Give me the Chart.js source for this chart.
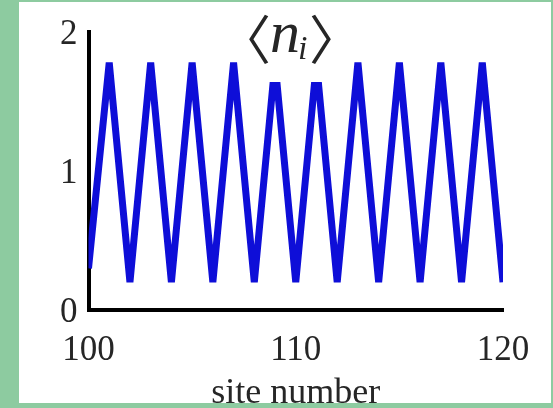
<!DOCTYPE html>
<html>
<head>
<meta charset="utf-8">
<script src="https://cdn.jsdelivr.net/npm/chart.js@4.4.0/dist/chart.umd.min.js"></script>
<style>
  html, body { margin: 0; padding: 0; background: #8dcba0; }
  #wrap { position: absolute; left: 0; top: 0; width: 553px; height: 408px; }
</style>
</head>
<body>
<div id="wrap"><canvas id="densityChart"></canvas></div>
<script>
// site index along the chain
const sites = [100, 101, 102, 103, 104, 105, 106, 107, 108, 109, 110,
               111, 112, 113, 114, 115, 116, 117, 118, 119, 120];
// mean occupation <n_i> per site
const occupation = [0.30, 1.78, 0.20, 1.78, 0.20, 1.78, 0.20, 1.78, 0.20, 1.78, 0.20,
                    1.78, 0.20, 1.78, 0.20, 1.78, 0.20, 1.78, 0.20, 1.78, 0.20];
const xTickValues = [100, 110, 120];
const yTickValues = [0, 1, 2];

const GREEN = '#8dcba0';
const TEXT = '#262626';
const BRACKET_FAMILY = '"Noto Sans CJK SC"';
const N_FONT = 'italic 60px "Liberation Serif"';
const SUB_FONT = 'italic 34px "Liberation Serif"';

// white panel behind the plot, green frame on top of everything
const framePlugin = {
    id: 'frame',
    beforeDraw(chart) {
        const c = chart.ctx;
        c.save();
        c.fillStyle = GREEN;
        c.fillRect(0, 0, chart.width, chart.height);
        c.fillStyle = '#ffffff';
        c.fillRect(19, 2, 532, 401);
        c.restore();
    },
    afterDraw(chart) {
        const c = chart.ctx;
        c.save();
        c.fillStyle = GREEN;
        c.fillRect(0, 0, 19, chart.height);
        c.fillRect(551, 0, 2, chart.height);
        c.fillRect(0, 0, chart.width, 2);
        c.fillRect(0, 403, chart.width, 5);
        c.restore();
    }
};

// draws a glyph so that its ink starts at x; returns where the ink ends
function inkText(c, str, x, y) {
    const m = c.measureText(str);
    c.fillText(str, x + m.actualBoundingBoxLeft, y);
    return x + m.actualBoundingBoxLeft + m.actualBoundingBoxRight;
}

// <n_i> label on a white box that sits over the curve
const labelPlugin = {
    id: 'niLabel',
    afterDatasetsDraw(chart) {
        const c = chart.ctx;
        c.save();
        c.fillStyle = '#ffffff';
        c.fillRect(242, 2, 94, 80);
        c.fillStyle = TEXT;
        c.textBaseline = 'alphabetic';
        c.textAlign = 'left';

        // size the angle brackets to span y = 15..65
        const top = 15, height = 50;
        c.font = '100px ' + BRACKET_FAMILY;
        const ref = c.measureText('\u3008');
        const k = height / (ref.actualBoundingBoxAscent + ref.actualBoundingBoxDescent);
        const bracketFont = Math.round(100 * k) + 'px ' + BRACKET_FAMILY;
        const bracketBase = top + ref.actualBoundingBoxAscent * k;

        c.font = bracketFont;
        let x = inkText(c, '\u3008', 249, bracketBase);
        c.font = N_FONT;
        x = inkText(c, 'n', x + 3, 52);
        c.font = SUB_FONT;
        x = inkText(c, 'i', x + 1, 59);
        c.font = bracketFont;
        inkText(c, '\u3009', x + 4, bracketBase);
        c.restore();
    }
};

function drawChart() {
    const ctx = document.getElementById('densityChart').getContext('2d');
    return new Chart(ctx, {
        type: 'line',
        data: {
            datasets: [{
                label: '<n_i>',
                data: sites.map((s, i) => ({ x: s, y: occupation[i] })),
                borderColor: '#0e0ed8',
                borderWidth: 7,
                borderJoinStyle: 'bevel',
                pointRadius: 0,
                tension: 0,
                fill: false,
                clip: 0
            }]
        },
        options: {
            responsive: true,
            maintainAspectRatio: false,
            animation: false,
            layout: { padding: { left: 0, top: 30, right: 50, bottom: 0 } },
            plugins: {
                legend: { display: false },
                tooltip: { enabled: false }
            },
            scales: {
                x: {
                    type: 'linear',
                    min: 100,
                    max: 120,
                    z: 1,
                    afterBuildTicks: (scale) => { scale.ticks = xTickValues.map(v => ({ value: v })); },
                    afterFit: (scale) => { scale.height = 98; },
                    grid: { display: false, drawTicks: false },
                    border: { display: true, color: '#000000', width: 4 },
                    ticks: {
                        color: TEXT,
                        padding: 20,
                        maxRotation: 0,
                        font: { family: '"Liberation Serif"', size: 35 }
                    },
                    title: {
                        display: true,
                        text: 'site number',
                        color: TEXT,
                        padding: { top: 0, bottom: -4 },
                        font: { family: '"Liberation Serif"', size: 36, lineHeight: 1 }
                    }
                },
                y: {
                    type: 'linear',
                    min: 0,
                    max: 2,
                    z: 1,
                    afterBuildTicks: (scale) => { scale.ticks = yTickValues.map(v => ({ value: v })); },
                    afterFit: (scale) => { scale.width = 88.5; },
                    grid: { display: false, drawTicks: false },
                    border: { display: true, color: '#000000', width: 4 },
                    ticks: {
                        color: TEXT,
                        padding: 11,
                        labelOffset: 3,
                        font: { family: '"Liberation Serif"', size: 35 }
                    }
                }
            }
        },
        plugins: [framePlugin, labelPlugin]
    });
}

Promise.all([
    document.fonts.load('57px ' + BRACKET_FAMILY, '\u3008\u3009'),
    document.fonts.load(N_FONT, 'n'),
    document.fonts.load(SUB_FONT, 'i'),
    document.fonts.load('36px "Liberation Serif"', 'site number 0123456789')
]).then(drawChart, drawChart);
</script>
</body>
</html>
